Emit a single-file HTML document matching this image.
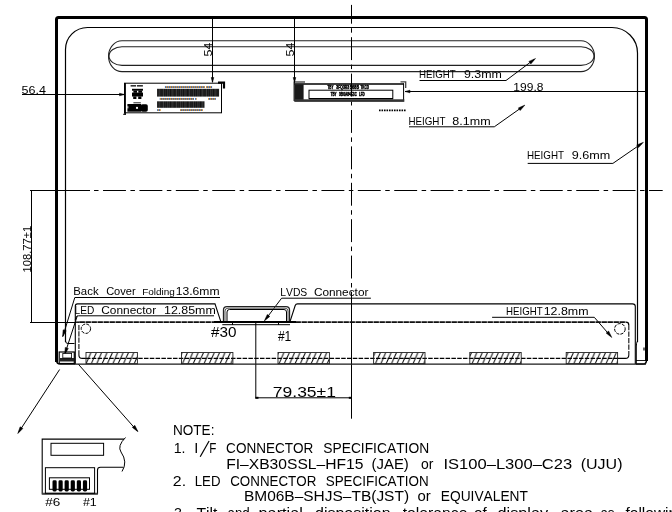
<!DOCTYPE html>
<html><head><meta charset="utf-8"><style>
html,body{margin:0;padding:0;background:#fff;}
svg{display:block;will-change:transform;}
text{font-family:"Liberation Sans",sans-serif;font-kerning:none;}
</style></head><body>
<svg width="672" height="512" viewBox="0 0 672 512">
<defs>
<pattern id="hatch" patternUnits="userSpaceOnUse" width="5.36" height="11.2" patternTransform="translate(86,352.5)">
<path d="M-5.36,11.2 L-0.36,0 M0,11.2 L5,0 M5.36,11.2 L10.36,0" stroke="#000" stroke-width="0.95"/>
</pattern>
<pattern id="bc" patternUnits="userSpaceOnUse" width="4.3" height="10" patternTransform="translate(157.1,0)">
<rect x="0" y="0" width="4.3" height="10" fill="#111"/>
<rect x="1.6" y="0" width="0.5" height="10" fill="#777"/>
<rect x="3.4" y="0" width="0.4" height="10" fill="#555"/>
</pattern>
<pattern id="dots" patternUnits="userSpaceOnUse" width="2" height="10">
<rect x="0" y="0" width="1" height="10" fill="#c77a1a"/>
<rect x="1" y="0" width="1" height="10" fill="#2a5fa8"/>
</pattern>
</defs>
<rect width="672" height="512" fill="#fff"/>
<path d="M56.5,362 L56.5,19.5 Q56.5,17.5 58.5,17.5 L644.5,17.5 Q646.5,17.5 646.5,19.5 L646.5,361" stroke="#000" stroke-width="3" fill="none" />
<path d="M56.5,360 Q56.5,364.1 60.5,364.1 L75,364.1" stroke="#000" stroke-width="1.5" fill="none" />
<path d="M636,364.1 L643,364.1 Q646.5,364.1 646.5,360" stroke="#000" stroke-width="1.5" fill="none" />
<path d="M65.5,342 L65.5,49.5 A22,22 0 0 1 87.5,27.5 L612,27.5 A25.5,25.5 0 0 1 637.5,53 L637.5,342" stroke="#000" stroke-width="1.2" fill="none" />
<path d="M65.5,341 Q65.5,343.5 68,343.5 L74.5,343.5" stroke="#000" stroke-width="1" fill="none" />
<path d="M637.5,341 Q636.3,343 636.3,346 L636.3,364" stroke="#000" stroke-width="1" fill="none" />
<path d="M122,40.8 L581,40.8 A13.5,15.4 0 0 1 581,71.6 L122,71.6 A13.5,15.4 0 0 1 122,40.8 Z" stroke="#222" stroke-width="1.1" fill="none" />
<path d="M122,46.8 L581,46.8 A13,9.3 0 0 1 581,65.4 L122,65.4 A13,9.3 0 0 1 122,46.8 Z" stroke="#222" stroke-width="1.1" fill="none" />
<line x1="30" y1="190.5" x2="90" y2="190.5" stroke="#000" stroke-width="1" />
<line x1="66.64" y1="190.5" x2="662.7" y2="190.5" stroke="#000" stroke-width="1" stroke-dasharray="22.9 4.5 4.5 4.5"/>
<line x1="351.5" y1="4.9" x2="351.5" y2="292" stroke="#000" stroke-width="1" stroke-dasharray="22.9 4.5 4.5 4.5" stroke-dashoffset="4.1"/>
<line x1="351.5" y1="291.7" x2="351.5" y2="418.7" stroke="#000" stroke-width="1" />
<line x1="22" y1="94.5" x2="124" y2="94.5" stroke="#000" stroke-width="1" />
<path d="M124.50,94.50 L119.50,95.80 L119.50,93.20 Z" fill="#000" stroke="#000" stroke-width="0.5" stroke-linejoin="round"/>
<text x="21.60" y="94.1" font-size="11.8" fill="#000" textLength="24.47" lengthAdjust="spacingAndGlyphs" >56.4</text>
<line x1="212.5" y1="17" x2="212.5" y2="82" stroke="#000" stroke-width="1" />
<path d="M212.50,82.50 L211.20,77.50 L213.80,77.50 Z" fill="#000" stroke="#000" stroke-width="0.5" stroke-linejoin="round"/>
<text x="0" y="0" font-size="11.8" textLength="13.86" lengthAdjust="spacingAndGlyphs" transform="translate(212.2,56) rotate(-90) translate(-0.50,0)">54</text>
<line x1="294.5" y1="17" x2="294.5" y2="82" stroke="#000" stroke-width="1" />
<path d="M294.50,82.50 L293.20,77.50 L295.80,77.50 Z" fill="#000" stroke="#000" stroke-width="0.5" stroke-linejoin="round"/>
<text x="0" y="0" font-size="11.8" textLength="13.86" lengthAdjust="spacingAndGlyphs" transform="translate(294,56) rotate(-90) translate(-0.50,0)">54</text>
<line x1="405" y1="91.5" x2="646" y2="91.5" stroke="#000" stroke-width="1" />
<path d="M405.00,91.50 L410.00,90.20 L410.00,92.80 Z" fill="#000" stroke="#000" stroke-width="0.5" stroke-linejoin="round"/>
<text x="513.39" y="91" font-size="11.2" fill="#000" textLength="30.04" lengthAdjust="spacingAndGlyphs" >199.8</text>
<line x1="31.5" y1="190" x2="31.5" y2="322" stroke="#000" stroke-width="1" />
<line x1="30" y1="322.5" x2="76" y2="322.5" stroke="#000" stroke-width="1" />
<text x="0" y="0" font-size="11" textLength="46.60" lengthAdjust="spacingAndGlyphs" transform="translate(31.4,271.6) rotate(-90) translate(-0.85,0)">108.77&#177;1</text>
<line x1="255.8" y1="322" x2="255.8" y2="398.5" stroke="#000" stroke-width="1" />
<line x1="255.7" y1="397.8" x2="351.5" y2="397.8" stroke="#000" stroke-width="1" />
<rect x="255.5" y="396.8" width="3" height="2" fill="#000" />
<rect x="348.8" y="396.8" width="3" height="2" fill="#000" />
<text x="272.80" y="397.1" font-size="15.4" fill="#000" textLength="63.15" lengthAdjust="spacingAndGlyphs" >79.35&#177;1</text>
<text x="419.10" y="78.1" font-size="11.1" fill="#000" textLength="36.72" lengthAdjust="spacingAndGlyphs" >HEIGHT</text>
<text x="463.92" y="78.1" font-size="11.1" fill="#000" textLength="37.90" lengthAdjust="spacingAndGlyphs" >9.3mm</text>
<path d="M419.5,80.5 L506,80.5 L534,59.5" stroke="#000" stroke-width="1" fill="none" />
<path d="M535.50,58.50 L530.83,63.96 L528.92,61.39 Z" fill="#000" stroke="#000" stroke-width="0.5" stroke-linejoin="round"/>
<text x="408.40" y="125" font-size="11.1" fill="#000" textLength="37.03" lengthAdjust="spacingAndGlyphs" >HEIGHT</text>
<text x="452.36" y="125" font-size="11.1" fill="#000" textLength="38.27" lengthAdjust="spacingAndGlyphs" >8.1mm</text>
<path d="M409,126.8 L494.3,126.8 L523,106.5" stroke="#000" stroke-width="1" fill="none" />
<path d="M524.90,105.10 L520.20,110.52 L518.31,107.94 Z" fill="#000" stroke="#000" stroke-width="0.5" stroke-linejoin="round"/>
<text x="527.00" y="158.9" font-size="11.1" fill="#000" textLength="37.03" lengthAdjust="spacingAndGlyphs" >HEIGHT</text>
<text x="571.71" y="158.9" font-size="11.1" fill="#000" textLength="38.52" lengthAdjust="spacingAndGlyphs" >9.6mm</text>
<path d="M527.7,163.4 L612.9,163.4 L642,143.3" stroke="#000" stroke-width="1" fill="none" />
<path d="M643.40,142.30 L638.56,147.61 L636.74,144.98 Z" fill="#000" stroke="#000" stroke-width="0.5" stroke-linejoin="round"/>
<text x="506.00" y="314.6" font-size="11.1" fill="#000" textLength="36.62" lengthAdjust="spacingAndGlyphs" >HEIGHT</text>
<text x="543.65" y="314.6" font-size="11.1" fill="#000" textLength="44.86" lengthAdjust="spacingAndGlyphs" >12.8mm</text>
<path d="M492.1,317.3 L594.3,317.3 L610.5,336" stroke="#000" stroke-width="1" fill="none" />
<path d="M611.80,337.50 L606.14,333.08 L608.62,331.06 Z" fill="#000" stroke="#000" stroke-width="0.5" stroke-linejoin="round"/>
<path d="M75.3,364 L75.3,306 Q75.3,303.9 77.5,303.9 L215,303.9 L220.8,321.7 M290,321.7 L295.2,305.5 Q295.8,303.9 297.5,303.9 L632.5,303.9 Q635.3,303.9 635.3,306.5 L635.3,364" stroke="#000" stroke-width="1.1" fill="none" />
<path d="M75.3,320 Q75.6,315.8 78.5,315.8 L214,315.8" stroke="#000" stroke-width="1" fill="none" />
<line x1="74.8" y1="297.5" x2="220" y2="297.5" stroke="#000" stroke-width="1" />
<path d="M74.8,297.5 L63,336" stroke="#000" stroke-width="1" fill="none" />
<path d="M62.60,337.00 L63.14,329.84 L66.20,330.78 Z" fill="#000" stroke="#000" stroke-width="0.5" stroke-linejoin="round"/>
<path d="M77.3,315.8 L65,353.5" stroke="#000" stroke-width="1" fill="none" />
<path d="M64.70,354.60 L65.25,347.44 L68.31,348.39 Z" fill="#000" stroke="#000" stroke-width="0.5" stroke-linejoin="round"/>
<path d="M370.9,298.2 L281.6,298.2 L265.5,319.5" stroke="#000" stroke-width="1" fill="none" />
<path d="M264.30,321.00 L267.30,314.48 L269.84,316.43 Z" fill="#000" stroke="#000" stroke-width="0.5" stroke-linejoin="round"/>
<line x1="76" y1="322.2" x2="79.5" y2="322.2" stroke="#111" stroke-width="1.5" />
<line x1="79.5" y1="322.1" x2="626" y2="322.1" stroke="#111" stroke-width="1.8" stroke-dasharray="5.4 0.6"/>
<path d="M78.9,325 L78.9,355" stroke="#222" stroke-width="1.2" fill="none" stroke-dasharray="5.2 1.1"/>
<path d="M628.8,325 L628.8,355" stroke="#222" stroke-width="1.2" fill="none" stroke-dasharray="5.3 1.2"/>
<path d="M78.9,322.5 Q78.9,322.2 79.5,322.2" stroke="#000" stroke-width="1.1" fill="none" />
<path d="M78.9,355 Q78.9,358.4 82.3,358.4 L86,358.4" stroke="#000" stroke-width="1.1" fill="none" />
<path d="M626,322.2 Q628.8,322.2 628.8,325" stroke="#000" stroke-width="1.2" fill="none" />
<path d="M628.8,355 Q628.8,358.4 625.4,358.4 L618,358.4" stroke="#000" stroke-width="1.1" fill="none" />
<path d="M86,358.4 L618,358.4" stroke="#000" stroke-width="1.1" fill="none" stroke-dasharray="4.5 1.3"/>
<circle cx="85.9" cy="328.7" r="4.7" fill="none" stroke="#000" stroke-width="1" stroke-dasharray="3.2 1.2"/>
<circle cx="619.9" cy="328.9" r="5.3" fill="none" stroke="#000" stroke-width="1" stroke-dasharray="3.2 1.2"/>
<line x1="636" y1="360.5" x2="645" y2="360.5" stroke="#000" stroke-width="0.9" />
<line x1="644" y1="347.5" x2="644" y2="350.5" stroke="#000" stroke-width="1.2" />
<rect x="86" y="352.5" width="51.4" height="11.2" fill="url(#hatch)" stroke="#222" stroke-width="0.9"/>
<rect x="181.5" y="352.5" width="51.4" height="11.2" fill="url(#hatch)" stroke="#222" stroke-width="0.9"/>
<rect x="278" y="352.5" width="51.4" height="11.2" fill="url(#hatch)" stroke="#222" stroke-width="0.9"/>
<rect x="373.6" y="352.5" width="51.4" height="11.2" fill="url(#hatch)" stroke="#222" stroke-width="0.9"/>
<rect x="469.8" y="352.5" width="51.4" height="11.2" fill="url(#hatch)" stroke="#222" stroke-width="0.9"/>
<rect x="566.2" y="352.5" width="51.4" height="11.2" fill="url(#hatch)" stroke="#222" stroke-width="0.9"/>
<line x1="74.8" y1="364.2" x2="646" y2="364.2" stroke="#1a1a1a" stroke-width="1.2" />
<path d="M223.5,322 L223.5,310 Q223.5,306.6 227,306.6 L286,306.6 Q289.5,306.6 289.5,310 L289.5,322" stroke="#222" stroke-width="1.3" fill="none" />
<path d="M225,322 L225,311 Q225,308.2 228,308.2 L285,308.2 Q288,308.2 288,311 L288,322" stroke="#555" stroke-width="1" fill="none" />
<path d="M227,322 L227,312 Q227,309.5 229.5,309.5 L284,309.5 Q286.5,309.5 286.5,312 L286.5,322" stroke="#000" stroke-width="1" fill="none" />
<path d="M222.3,324.7 L290,324.7" stroke="#000" stroke-width="1" fill="none" />
<line x1="232.5" y1="322" x2="232.5" y2="325" stroke="#000" stroke-width="1" />
<line x1="278.5" y1="322" x2="278.5" y2="325" stroke="#000" stroke-width="1" />
<line x1="214" y1="322" x2="296" y2="322" stroke="#000" stroke-width="2" />
<text x="210.93" y="336.7" font-size="15.3" fill="#000" textLength="25.46" lengthAdjust="spacingAndGlyphs" >#30</text>
<text x="277.95" y="340.7" font-size="15.3" fill="#000" textLength="13.34" lengthAdjust="spacingAndGlyphs" >#1</text>
<text x="73.27" y="295.3" font-size="11.2" fill="#000" textLength="25.32" lengthAdjust="spacingAndGlyphs" >Back</text>
<text x="106.14" y="295.3" font-size="11.2" fill="#000" textLength="29.55" lengthAdjust="spacingAndGlyphs" >Cover</text>
<text x="142.18" y="295" font-size="8.2" fill="#000" textLength="32.66" lengthAdjust="spacingAndGlyphs" >Folding</text>
<text x="175.68" y="295.3" font-size="11.2" fill="#000" textLength="43.82" lengthAdjust="spacingAndGlyphs" >13.6mm</text>
<text x="74.57" y="313.9" font-size="10.8" fill="#000" textLength="19.72" lengthAdjust="spacingAndGlyphs" >LED</text>
<text x="101.30" y="313.9" font-size="10.8" fill="#000" textLength="54.80" lengthAdjust="spacingAndGlyphs" >Connector</text>
<text x="164.05" y="313.9" font-size="10.8" fill="#000" textLength="51.76" lengthAdjust="spacingAndGlyphs" >12.85mm</text>
<text x="280.25" y="295.5" font-size="11.4" fill="#000" textLength="27.02" lengthAdjust="spacingAndGlyphs" >LVDS</text>
<text x="313.90" y="295.5" font-size="11.4" fill="#000" textLength="54.50" lengthAdjust="spacingAndGlyphs" >Connector</text>
<rect x="59.2" y="352" width="15.1" height="11.5" fill="none" stroke="#000" stroke-width="1.2"/>
<rect x="60" y="358" width="14" height="3.5" fill="#222" />
<rect x="62.8" y="353.4" width="8.8" height="4.6" fill="#fff" stroke="#000" stroke-width="0.8"/>
<path d="M59.6,369.5 L18.5,432.5" stroke="#000" stroke-width="1" fill="none" />
<path d="M17.80,433.60 L20.13,426.81 L22.85,428.50 Z" fill="#000" stroke="#000" stroke-width="0.5" stroke-linejoin="round"/>
<path d="M78.6,364.5 L137.3,431" stroke="#000" stroke-width="1" fill="none" />
<path d="M138.00,431.80 L132.33,427.39 L134.81,425.37 Z" fill="#000" stroke="#000" stroke-width="0.5" stroke-linejoin="round"/>
<rect x="124.5" y="83.2" width="97" height="29.6" fill="none" stroke="#000" stroke-width="1"/>
<line x1="125.1" y1="83" x2="125.1" y2="114.5" stroke="#000" stroke-width="1.6" />
<path d="M123.2,114.3 L126,114.3" stroke="#000" stroke-width="1" fill="none" />
<path d="M218,82.7 L224,82.7 L224,88.5" stroke="#000" stroke-width="2.2" fill="none" />
<rect x="130.6" y="85" width="5.5" height="1.6" fill="#333" />
<rect x="137" y="85" width="5.9" height="1.6" fill="#333" />
<rect x="132" y="88.8" width="11" height="1.9" fill="#000" />
<rect x="133.4" y="90.5" width="3.6" height="2.3" fill="#000" />
<rect x="138.3" y="90.5" width="3.8" height="2.3" fill="#000" />
<rect x="132" y="92.6" width="11" height="3.9" fill="#000" />
<rect x="133.2" y="96.4" width="3.2" height="2.6" fill="#000" />
<rect x="138.2" y="96.4" width="3.2" height="2.6" fill="#000" />
<rect x="133.4" y="102.3" width="7.4" height="1" fill="#222" />
<rect x="127.4" y="104" width="13.8" height="7.7" fill="#000" />
<rect x="140.8" y="104.3" width="7" height="7.4" fill="#000" rx="1.8"/>
<circle cx="137" cy="107.9" r="1.1" fill="#fff"/>
<rect x="127.4" y="106.2" width="0.9" height="2.2" fill="#fff" />
<rect x="157.1" y="88.8" width="62" height="7.8" fill="url(#bc)"/>
<rect x="157.1" y="101.3" width="47.4" height="6.5" fill="url(#bc)"/>
<rect x="164.9" y="86.2" width="40.1" height="1.7" fill="url(#dots)"/>
<rect x="206" y="86.2" width="6.1" height="1.7" fill="url(#dots)"/>
<rect x="159.7" y="98.1" width="34.3" height="1.7" fill="url(#dots)"/>
<rect x="195.1" y="98.1" width="1.6" height="1.7" fill="url(#dots)"/>
<rect x="208.1" y="98.1" width="7.8" height="1.7" fill="url(#dots)"/>
<rect x="157.1" y="109.2" width="3.6" height="1.7" fill="url(#dots)"/>
<rect x="180" y="109.2" width="22.9" height="1.7" fill="url(#dots)"/>
<path d="M294.2,101 L294.2,82 L305,82" stroke="#000" stroke-width="1.2" fill="none" />
<line x1="294.5" y1="83.9" x2="404" y2="83.9" stroke="#000" stroke-width="1.5" />
<rect x="295" y="84.3" width="8.6" height="15.6" fill="#1a1a1a" />
<path d="M403.6,83.5 L403.6,100.5" stroke="#000" stroke-width="1" fill="none" />
<path d="M400.5,81.9 L405.7,81.9 L405.7,88" stroke="#444" stroke-width="1.3" fill="none" />
<rect x="294.3" y="99.3" width="110" height="2.6" fill="#333" />
<rect x="309" y="90.2" width="83.8" height="8.4" fill="none" stroke="#000" stroke-width="1"/>
<line x1="309" y1="98.6" x2="393" y2="98.6" stroke="#000" stroke-width="1.4" />
<text x="327.53" y="88.7" font-size="4.6" fill="#000" textLength="5.94" lengthAdjust="spacingAndGlyphs" font-weight="bold" stroke="#000" stroke-width="0.45">TBY</text>
<text x="336.37" y="88.7" font-size="4.6" fill="#000" textLength="12.78" lengthAdjust="spacingAndGlyphs" font-weight="bold" stroke="#000" stroke-width="0.45">3FQ3R3</text>
<text x="349.73" y="88.7" font-size="4.6" fill="#000" textLength="9.24" lengthAdjust="spacingAndGlyphs" font-weight="bold" stroke="#000" stroke-width="0.45">5685</text>
<text x="360.53" y="88.7" font-size="4.6" fill="#000" textLength="8.31" lengthAdjust="spacingAndGlyphs" font-weight="bold" stroke="#000" stroke-width="0.45">TKCD</text>
<text x="330.63" y="96.3" font-size="5.3" fill="#000" textLength="5.94" lengthAdjust="spacingAndGlyphs" font-weight="bold" stroke="#000" stroke-width="0.5">TBY</text>
<text x="339.07" y="96.3" font-size="5.3" fill="#000" textLength="11.82" lengthAdjust="spacingAndGlyphs" font-weight="bold" stroke="#000" stroke-width="0.5">3B0A84</text>
<text x="350.97" y="96.3" font-size="5.3" fill="#000" textLength="5.74" lengthAdjust="spacingAndGlyphs" font-weight="bold" stroke="#000" stroke-width="0.5">ESC</text>
<text x="359.05" y="96.3" font-size="5.3" fill="#000" textLength="5.69" lengthAdjust="spacingAndGlyphs" font-weight="bold" stroke="#000" stroke-width="0.5">LFD</text>
<line x1="379" y1="110.4" x2="406" y2="110.4" stroke="#000" stroke-width="1.8" stroke-dasharray="1.6 0.9"/>
<path d="M125.5,437.5 Q117,446 121,452 Q128,462 122,471.5" stroke="#000" stroke-width="1" fill="none" />
<path d="M124,439.1 L42.2,439.1 L42.2,494 L97.5,494 L97.5,470 Q97.5,467.2 100.5,467.2 L123.5,467.2" stroke="#000" stroke-width="1.1" fill="none" />
<line x1="42.2" y1="493.6" x2="97.5" y2="493.6" stroke="#444" stroke-width="1.8" />
<rect x="51" y="443.3" width="52.6" height="12" fill="none" stroke="#000" stroke-width="1"/>
<rect x="45.4" y="467.7" width="49.2" height="25.6" fill="none" stroke="#000" stroke-width="1"/>
<rect x="49.4" y="477.8" width="40.1" height="11.5" fill="none" stroke="#000" stroke-width="1"/>
<rect x="52.5" y="480.3" width="4.2" height="11.2" rx="1.4" fill="#000"/>
<rect x="58.5" y="480.3" width="4.2" height="11.2" rx="1.4" fill="#000"/>
<rect x="64.60000000000001" y="480.3" width="4.2" height="11.2" rx="1.4" fill="#000"/>
<rect x="70.7" y="480.3" width="4.2" height="11.2" rx="1.4" fill="#000"/>
<rect x="76.80000000000001" y="480.3" width="4.2" height="11.2" rx="1.4" fill="#000"/>
<rect x="82.9" y="480.3" width="4.2" height="11.2" rx="1.4" fill="#000"/>
<text x="45.34" y="506.1" font-size="10.3" fill="#000" textLength="15.05" lengthAdjust="spacingAndGlyphs" >#6</text>
<text x="82.95" y="506.1" font-size="10.3" fill="#000" textLength="13.86" lengthAdjust="spacingAndGlyphs" >#1</text>
<text x="172.99" y="434.5" font-size="14.5" fill="#000" textLength="41.45" lengthAdjust="spacingAndGlyphs" >NOTE:</text>
<text x="173.63" y="453.3" font-size="14.6" fill="#000" textLength="11.76" lengthAdjust="spacingAndGlyphs" >1.</text>
<text x="194.25" y="453.3" font-size="14.6">I</text>
<text x="209.14" y="453.3" font-size="14.6" fill="#000" textLength="7.12" lengthAdjust="spacingAndGlyphs" >F</text>
<line x1="200.2" y1="456.7" x2="209.1" y2="441" stroke="#000" stroke-width="1.2" />
<text x="226.11" y="453.3" font-size="14.6" fill="#000" textLength="87.22" lengthAdjust="spacingAndGlyphs" >CONNECTOR</text>
<text x="323.27" y="453.3" font-size="14.6" fill="#000" textLength="105.85" lengthAdjust="spacingAndGlyphs" >SPECIFICATION</text>
<text x="226.22" y="468.8" font-size="14.2" fill="#000" textLength="137.14" lengthAdjust="spacingAndGlyphs" >FI&#8211;XB30SSL&#8211;HF15</text>
<text x="371.58" y="468.8" font-size="14.2" fill="#000" textLength="37.25" lengthAdjust="spacingAndGlyphs" >(JAE)</text>
<text x="421.01" y="468.8" font-size="14.2" fill="#000" textLength="12.42" lengthAdjust="spacingAndGlyphs" >or</text>
<text x="443.47" y="468.8" font-size="14.2" fill="#000" textLength="128.75" lengthAdjust="spacingAndGlyphs" >IS100&#8211;L300&#8211;C23</text>
<text x="580.71" y="468.8" font-size="14.2" fill="#000" textLength="41.79" lengthAdjust="spacingAndGlyphs" >(UJU)</text>
<text x="172.80" y="485.7" font-size="14.7" fill="#000" textLength="13.25" lengthAdjust="spacingAndGlyphs" >2.</text>
<text x="194.72" y="485.7" font-size="14.7" fill="#000" textLength="25.72" lengthAdjust="spacingAndGlyphs" >LED</text>
<text x="230.22" y="485.7" font-size="14.7" fill="#000" textLength="86.10" lengthAdjust="spacingAndGlyphs" >CONNECTOR</text>
<text x="325.69" y="485.7" font-size="14.7" fill="#000" textLength="102.90" lengthAdjust="spacingAndGlyphs" >SPECIFICATION</text>
<text x="243.93" y="501" font-size="14.3" fill="#000" textLength="165.13" lengthAdjust="spacingAndGlyphs" >BM06B&#8211;SHJS&#8211;TB(JST)</text>
<text x="417.47" y="501" font-size="14.3" fill="#000" textLength="13.27" lengthAdjust="spacingAndGlyphs" >or</text>
<text x="440.77" y="501" font-size="14.3" fill="#000" textLength="87.14" lengthAdjust="spacingAndGlyphs" >EQUIVALENT</text>
<text x="173.95" y="517.7" font-size="14.5" fill="#000" textLength="11.95" lengthAdjust="spacingAndGlyphs" >3.</text>
<text x="196.45" y="517.7" font-size="14.5" fill="#000" textLength="20.97" lengthAdjust="spacingAndGlyphs" >Tilt</text>
<text x="227.47" y="517.7" font-size="14.5" fill="#000" textLength="22.26" lengthAdjust="spacingAndGlyphs" >and</text>
<text x="258.60" y="517.7" font-size="14.5" fill="#000" textLength="44.23" lengthAdjust="spacingAndGlyphs" >partial</text>
<text x="315.03" y="517.7" font-size="14.5" fill="#000" textLength="75.51" lengthAdjust="spacingAndGlyphs" >disposition</text>
<text x="402.76" y="517.7" font-size="14.5" fill="#000" textLength="64.64" lengthAdjust="spacingAndGlyphs" >tolerance</text>
<text x="474.06" y="517.7" font-size="14.5" fill="#000" textLength="12.72" lengthAdjust="spacingAndGlyphs" >of</text>
<text x="497.50" y="517.7" font-size="14.5" fill="#000" textLength="50.55" lengthAdjust="spacingAndGlyphs" >display</text>
<text x="560.50" y="517.7" font-size="14.5" fill="#000" textLength="32.50" lengthAdjust="spacingAndGlyphs" >area</text>
<text x="600.41" y="517.7" font-size="14.5" fill="#000" textLength="14.09" lengthAdjust="spacingAndGlyphs" >as</text>
<text x="625.48" y="517.7" font-size="14.5" fill="#000" textLength="60.32" lengthAdjust="spacingAndGlyphs" >following</text>
</svg>
</body></html>
